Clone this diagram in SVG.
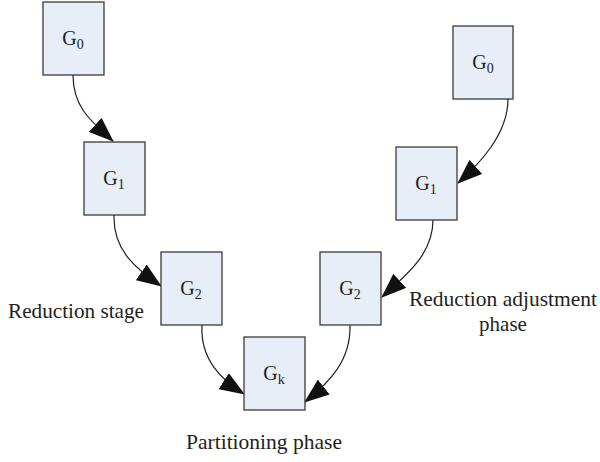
<svg xmlns="http://www.w3.org/2000/svg" width="600" height="462" viewBox="0 0 600 462">
  <style>
    .box { fill: #e8eef7; stroke: #3a3a3a; stroke-width: 1.3; }
    text { font-family: 'Liberation Serif', 'DejaVu Serif', serif; fill: #231f20; }
    .lbl { font-size: 20px; text-anchor: middle; }
    .sub { font-size: 14px; }
    .cap { font-size: 21px; }
    .edge { fill: none; stroke: #231f20; stroke-width: 1.2; marker-end: url(#head); }
  </style>
  <defs>
    <marker id="head" viewBox="0 0 25 19" refX="24" refY="9.5" markerWidth="25" markerHeight="19" markerUnits="userSpaceOnUse" orient="auto">
      <path d="M0,0 L25,9.5 L0,19 Z" fill="#111"/>
    </marker>
  </defs>

  <!-- connectors -->
  <g id="connectors">
    <path class="edge" d="M73,75 C73,108 92,122 113,141"/>
    <path class="edge" d="M114,215 C113,250 135,268 161,286"/>
    <path class="edge" d="M202,325 C200,360 222,380 244,394"/>
    <path class="edge" d="M508,99 C508,135 478,165 458,183"/>
    <path class="edge" d="M433,220 C433,255 405,276 382,297"/>
    <path class="edge" d="M350,325 C351,360 330,382 305,402"/>
  </g>

  <!-- reduction chain -->
  <g id="left-g0">
    <rect class="box" x="43" y="2" width="61" height="73"/>
    <text class="lbl" x="73" y="45">G<tspan class="sub" dy="4">0</tspan></text>
  </g>
  <g id="left-g1">
    <rect class="box" x="84" y="142" width="61" height="73"/>
    <text class="lbl" x="114" y="185">G<tspan class="sub" dy="4">1</tspan></text>
  </g>
  <g id="left-g2">
    <rect class="box" x="161" y="252" width="61" height="73"/>
    <text class="lbl" x="191" y="295">G<tspan class="sub" dy="4">2</tspan></text>
  </g>

  <!-- partition result -->
  <g id="gk">
    <rect class="box" x="244" y="337" width="61" height="73"/>
    <text class="lbl" x="274" y="380">G<tspan class="sub" dy="4">k</tspan></text>
  </g>

  <!-- adjustment chain -->
  <g id="right-g2">
    <rect class="box" x="320" y="252" width="61" height="73"/>
    <text class="lbl" x="350" y="295">G<tspan class="sub" dy="4">2</tspan></text>
  </g>
  <g id="right-g1">
    <rect class="box" x="396" y="147" width="61" height="73"/>
    <text class="lbl" x="426" y="190">G<tspan class="sub" dy="4">1</tspan></text>
  </g>
  <g id="right-g0">
    <rect class="box" x="453" y="26" width="60" height="73"/>
    <text class="lbl" x="483" y="69">G<tspan class="sub" dy="4">0</tspan></text>
  </g>

  <!-- stage captions -->
  <g id="captions">
    <text class="cap" x="8" y="318" textLength="136" lengthAdjust="spacingAndGlyphs">Reduction stage</text>
    <text class="cap" x="409" y="306" textLength="188" lengthAdjust="spacingAndGlyphs">Reduction adjustment</text>
    <text class="cap" x="503" y="331" text-anchor="middle">phase</text>
    <text class="cap" x="186" y="449" textLength="156" lengthAdjust="spacingAndGlyphs">Partitioning phase</text>
  </g>
</svg>
